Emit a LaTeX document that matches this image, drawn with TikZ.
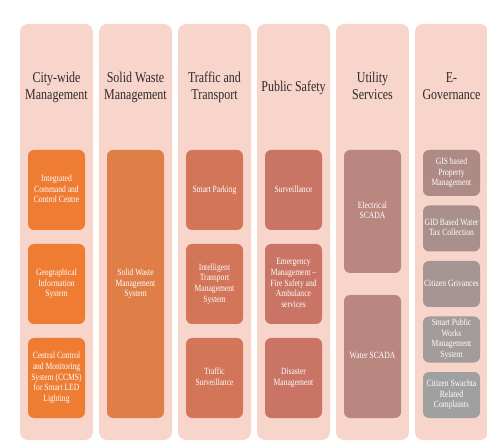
\documentclass[tikz,border=0pt]{standalone}
\usepackage{fontspec}
\usepackage{graphicx}
\setmainfont{Liberation Serif}

\definecolor{colfill}{HTML}{F8D5CA}
\definecolor{citybox}{HTML}{EE7C33}
\definecolor{wastebox}{HTML}{E07E48}
\definecolor{trafficbox}{HTML}{D27558}
\definecolor{safetybox}{HTML}{C97464}
\definecolor{utilbox}{HTML}{BA8680}
\definecolor{govA}{HTML}{AE8A85}
\definecolor{govB}{HTML}{A9908D}
\definecolor{govC}{HTML}{A69593}
\definecolor{govD}{HTML}{A39A9A}
\definecolor{govE}{HTML}{A0A0A0}
\definecolor{titletext}{HTML}{2E2A2A}

% narrow serif text, one line per row
\newcommand{\titletext}[1]{\scalebox{0.8}[1]{\begin{tabular}{@{}c@{}}#1\end{tabular}}}
\newcommand{\boxtext}[1]{\scalebox{0.8}[1]{\begin{tabular}{@{}c@{}}#1\end{tabular}}}

\begin{document}
\begin{tikzpicture}[x=1pt,y=-1pt]
    \tikzstyle{column}=[rectangle,rounded corners=8pt,fill=colfill,minimum width=73pt,minimum height=416pt,inner sep=0pt]
    \tikzstyle{heading}=[text=titletext,font=\fontsize{15}{17}\selectfont,inner sep=0pt]
    \tikzstyle{item}=[rectangle,rounded corners=6pt,minimum width=57pt,inner sep=0pt,text=white,font=\fontsize{9.5}{10.7}\selectfont]

    \useasboundingbox (0,0) rectangle (487,443);

    % the six columns
    \node[column] (city)    at (56.5,232)  {};
    \node[column] (waste)   at (135.5,232) {};
    \node[column] (traffic) at (214.5,232) {};
    \node[column] (safety)  at (293.5,232) {};
    \node[column] (utility) at (372.5,232) {};
    \node[column] (egov)    at (451.5,232) {};

    \node[heading] (city-title)    at (56.5,88)  {\titletext{City-wide\\Management}};
    \node[heading] (waste-title)   at (135.5,88) {\titletext{Solid Waste\\Management}};
    \node[heading] (traffic-title) at (214.5,88) {\titletext{Traffic and\\Transport}};
    \node[heading] (safety-title)  at (293.5,88) {\titletext{Public Safety}};
    \node[heading] (utility-title) at (372.5,88) {\titletext{Utility\\Services}};
    \node[heading] (egov-title)    at (451.5,88) {\titletext{E-\\Governance}};

    % city-wide management
    \node[item,fill=citybox,minimum height=80pt] (iccc) at (56.5,190) {\boxtext{Integrated\\Command and\\Control Centre}};
    \node[item,fill=citybox,minimum height=80pt] (gis)  at (56.5,284) {\boxtext{Geographical\\Information\\System}};
    \node[item,fill=citybox,minimum height=80pt] (ccms) at (56.5,378) {\boxtext{Central Control\\and Monitoring\\System (CCMS)\\for Smart LED\\Lighting}};

    % solid waste
    \node[item,fill=wastebox,minimum height=268pt] (swms) at (135.5,284) {\boxtext{Solid Waste\\Management\\System}};

    % traffic and transport
    \node[item,fill=trafficbox,minimum height=80pt] (parking) at (214.5,190) {\boxtext{Smart Parking}};
    \node[item,fill=trafficbox,minimum height=80pt] (itms)    at (214.5,284) {\boxtext{Intelligent\\Transport\\Management\\System}};
    \node[item,fill=trafficbox,minimum height=80pt] (tsurv)   at (214.5,378) {\boxtext{Traffic\\Surveillance}};

    % public safety
    \node[item,fill=safetybox,minimum height=80pt] (surv)      at (293.5,190) {\boxtext{Surveillance}};
    \node[item,fill=safetybox,minimum height=80pt] (emergency) at (293.5,284) {\boxtext{Emergency\\Management --\\Fire Safety and\\Ambulance\\services}};
    \node[item,fill=safetybox,minimum height=80pt] (disaster)  at (293.5,378) {\boxtext{Disaster\\Management}};

    % utility services
    \node[item,fill=utilbox,minimum height=123pt] (escada) at (372.5,211.5) {\boxtext{Electrical\\SCADA}};
    \node[item,fill=utilbox,minimum height=123pt] (wscada) at (372.5,356.5) {\boxtext{Water SCADA}};

    % e-governance
    \node[item,fill=govA,minimum height=46pt] (property) at (451.5,173)   {\boxtext{GIS based\\Property\\Management}};
    \node[item,fill=govB,minimum height=46pt] (watertax) at (451.5,228.5) {\boxtext{GID Based Water\\Tax Collection}};
    \node[item,fill=govC,minimum height=46pt] (grievance) at (451.5,284)  {\boxtext{Citizen Grivances}};
    \node[item,fill=govD,minimum height=46pt] (publicworks) at (451.5,339.5) {\boxtext{Smart Public\\Works\\Management\\System}};
    \node[item,fill=govE,minimum height=46pt] (swachta) at (451.5,395)    {\boxtext{Citizen Swachta\\Related\\Complaints}};

\end{tikzpicture}
\end{document}
